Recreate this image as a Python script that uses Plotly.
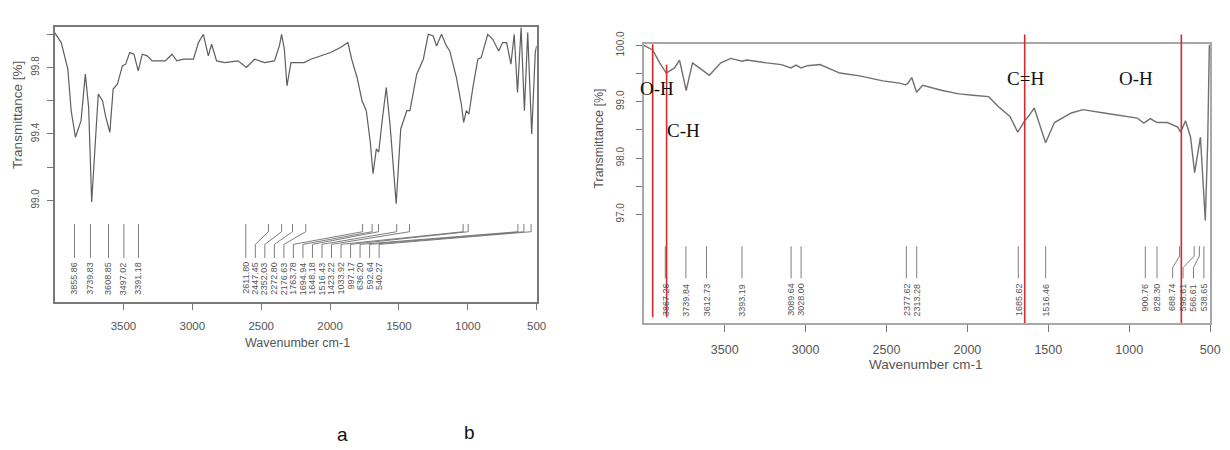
import plotly.graph_objects as go

W, H = 1230, 450
OFF = 8  # the page body adds an 8px margin; place everything 8px up/left to compensate

# ---------------- data: spectrum a ----------------
a_wn = [4000, 3952, 3904, 3880, 3849, 3808, 3777, 3753, 3731, 3712, 3683, 3652, 3628, 3599,
        3575, 3544, 3508, 3484, 3455, 3424, 3393, 3364, 3328, 3292, 3244, 3196, 3148, 3112,
        3064, 2992, 2956, 2920, 2884, 2860, 2824, 2764, 2668, 2608, 2548, 2476, 2404, 2368,
        2352, 2332, 2313, 2284, 2248, 2188, 2140, 2068, 1996, 1924, 1871, 1840, 1804, 1768,
        1737, 1708, 1688, 1664, 1647, 1623, 1592, 1564, 1520, 1487, 1443, 1420, 1371, 1323,
        1287, 1251, 1227, 1191, 1155, 1131, 1083, 1047, 1030, 1011, 992, 963, 927, 903, 855,
        819, 776, 747, 718, 687, 663, 639, 613, 589, 565, 536, 510, 500]
a_tr = [100.01, 99.95, 99.79, 99.54, 99.38, 99.48, 99.76, 99.56, 98.99, 99.25, 99.64, 99.60,
        99.50, 99.41, 99.67, 99.70, 99.81, 99.82, 99.89, 99.88, 99.78, 99.88, 99.87, 99.84,
        99.84, 99.84, 99.88, 99.84, 99.85, 99.85, 99.95, 100.0, 99.87, 99.94, 99.84, 99.83,
        99.84, 99.80, 99.85, 99.83, 99.84, 99.93, 100.0, 99.91, 99.69, 99.83, 99.83, 99.83,
        99.85, 99.87, 99.89, 99.92, 99.95, 99.84, 99.74, 99.60, 99.54, 99.35, 99.16, 99.31,
        99.29, 99.47, 99.68, 99.45, 98.98, 99.43, 99.54, 99.54, 99.76, 99.85, 100.0, 99.99,
        99.93, 100.0, 99.93, 99.90, 99.74, 99.58, 99.47, 99.54, 99.52, 99.68, 99.85, 99.86,
        100.0, 99.97, 99.90, 99.95, 99.95, 99.82, 100.0, 99.65, 100.04, 99.54, 100.01, 99.40,
        99.89, 99.93]
a_peaks = [3855.86, 3739.83, 3608.85, 3497.02, 3391.18, 2611.80, 2447.45, 2352.03, 2272.80,
           2176.63, 1763.78, 1694.94, 1648.18, 1516.43, 1423.22, 1033.92, 997.17, 636.20,
           592.64, 540.27]

# ---------------- data: spectrum b ----------------
b_wn = [4000, 3945, 3902, 3861, 3810, 3779, 3738, 3699, 3646, 3595, 3524, 3462, 3393, 3362,
        3240, 3150, 3090, 3060, 3028, 2990, 2911, 2789, 2666, 2523, 2420, 2382, 2370, 2344,
        2314, 2277, 2155, 2053, 1950, 1869, 1808, 1737, 1689, 1646, 1620, 1587, 1517, 1462,
        1358, 1286, 1156, 1010, 950, 910, 870, 828, 765, 700, 683, 652, 621, 596, 560, 530,
        515, 505, 500]
b_tr = [100.0, 99.92, 99.69, 99.51, 99.60, 99.74, 99.20, 99.69, 99.58, 99.47, 99.69, 99.77,
        99.72, 99.74, 99.69, 99.66, 99.60, 99.65, 99.60, 99.64, 99.66, 99.51, 99.46, 99.37,
        99.33, 99.30, 99.32, 99.43, 99.17, 99.29, 99.20, 99.14, 99.11, 99.09, 98.91, 98.74,
        98.46, 98.66, 98.75, 98.89, 98.27, 98.63, 98.80, 98.86, 98.80, 98.74, 98.71, 98.62,
        98.70, 98.63, 98.63, 98.55, 98.46, 98.66, 98.37, 97.74, 98.37, 96.89, 98.3, 100.0,
        100.0]
b_peaks = [3867.26, 3739.84, 3612.73, 3393.19, 3089.64, 3028.00, 2377.62, 2313.28, 1685.62,
           1516.46, 900.76, 828.30, 688.74, 598.61, 566.61, 538.65]

band_wn = [3945, 3859, 1646, 678]
band_labels = ["O-H", "C-H", "C=H", "O-H"]

x_ticks = [3500, 3000, 2500, 2000, 1500, 1000, 500]
a_yticks = [99.0, 99.2, 99.4, 99.6, 99.8, 100.0]
a_ytext = ["99.0", "", "99.4", "", "99.8", ""]
b_yticks = [97.0, 97.5, 98.0, 98.5, 99.0, 99.5, 100.0]
b_ytext = ["97.0", "", "98.0", "", "99.0", "", "100.0"]

panel_labels = ["a", "b"]

# ---------------- layout geometry (target screen pixels) ----------------
A = dict(l=55, r=541, t=14, b=297)
B = dict(l=649, r=1220, t=32, b=319)


def px(x):
    return (x - OFF) / W


def py(y):
    return 1 - (y - OFF) / H


def xdom(p):
    return [px(p["l"]), px(p["r"])]


def ydom(p):
    return [py(p["b"]), py(p["t"])]


def yfrac(p, ypx):
    return (p["b"] - ypx) / (p["b"] - p["t"])


TXT = "#555555"
FONT = "Liberation Sans, Arial, sans-serif"

fig = go.Figure()
fig.add_trace(go.Scatter(x=a_wn, y=a_tr, mode="lines", line=dict(color="#5e5e5e", width=1.2),
                         xaxis="x", yaxis="y", showlegend=False, hoverinfo="skip"))
fig.add_trace(go.Scatter(x=b_wn, y=b_tr, mode="lines", line=dict(color="#707070", width=1.4),
                         xaxis="x2", yaxis="y2", showlegend=False, hoverinfo="skip"))

shapes = []
annos = []


def peak_marks(p, xr, yr, peaks, labx, y_top, y_k1, y_k2, y_bot, y_lab):
    f = lambda v: yfrac(p, v)
    for pk, lx in zip(peaks, labx):
        common = dict(type="line", xref=xr, yref=yr + " domain",
                      line=dict(color="#6f6f6f", width=0.9))
        if abs(pk - lx) < 8:
            shapes.append(dict(common, x0=pk, x1=pk, y0=f(y_top), y1=f(y_bot)))
        else:
            shapes.append(dict(common, x0=pk, x1=pk, y0=f(y_top), y1=f(y_k1)))
            shapes.append(dict(common, x0=pk, x1=lx, y0=f(y_k1), y1=f(y_k2)))
            shapes.append(dict(common, x0=lx, x1=lx, y0=f(y_k2), y1=f(y_bot)))
        annos.append(dict(x=lx, xref=xr, y=f(y_lab), yref=yr + " domain", text=f"{pk:.2f}",
                          textangle=-90, showarrow=False, xanchor="center", yanchor="top",
                          font=dict(family=FONT, size=9, color="#555555")))


# panel a labels: cluster packed evenly starting from 2611.80
gap_a = 9.6 * 3500 / (A["r"] - A["l"])
labx_a = []
for i, pk in enumerate(a_peaks):
    if i <= 5:
        labx_a.append(pk)
    else:
        labx_a.append(a_peaks[5] - (i - 5) * gap_a)
peak_marks(A, "x", "y", a_peaks, labx_a, 217, 225, 238, 252, 254)

# panel b labels: right-to-left de-overlap
gap_b = 10.5 * 3500 / (B["r"] - B["l"])
labx_b = [0] * len(b_peaks)
prev = None
for i in range(len(b_peaks) - 1, -1, -1):
    v = b_peaks[i]
    if prev is not None and v < prev + gap_b and prev + gap_b - v > 8:
        v = prev + gap_b
    labx_b[i] = v
    prev = v
peak_marks(B, "x2", "y2", b_peaks, labx_b, 240, 250, 262, 273, 276)

# red band lines
red_spans = [(32, 313), (53, 313), (22, 319), (22, 319)]
for wn, (y0, y1) in zip(band_wn, red_spans):
    shapes.append(dict(type="line", xref="x2", yref="y2 domain", x0=wn, x1=wn,
                       y0=yfrac(B, y1), y1=yfrac(B, y0),
                       line=dict(color="#d42a2a", width=1.6)))

band_pos = [(662, 78), (689, 121), (1034, 67), (1145, 67)]
for lab, (xp, yp) in zip(band_labels, band_pos):
    annos.append(dict(x=px(xp), y=py(yp), xref="paper", yref="paper", text=lab,
                      showarrow=False, xanchor="center", yanchor="middle",
                      font=dict(family="Liberation Serif, Times New Roman, serif", size=19,
                                color="#111111")))

# axis titles
for (xp, yp, sz) in [(17, 105, 13.5), (603, 129, 12.5)]:
    annos.append(dict(x=px(xp), y=py(yp), xref="paper", yref="paper",
                      text="Transmittance [%]", textangle=-90, showarrow=False,
                      xanchor="center", yanchor="middle",
                      font=dict(family=FONT, size=sz, color=TXT)))
for (xp, yp, sz) in [(300, 340, 12.5), (934, 362, 13.5)]:
    annos.append(dict(x=px(xp), y=py(yp), xref="paper", yref="paper",
                      text="Wavenumber cm-1", showarrow=False,
                      xanchor="center", yanchor="middle",
                      font=dict(family=FONT, size=sz, color=TXT)))

# panel letters
for lab, (xp, yp) in zip(panel_labels, [(345, 434), (473, 432)]):
    annos.append(dict(x=px(xp), y=py(yp), xref="paper", yref="paper", text=lab,
                      showarrow=False, xanchor="center", yanchor="middle",
                      font=dict(family="Liberation Sans, Arial", size=19, color="#111111")))

xcommon = dict(autorange=False, tickvals=x_ticks, ticks="outside", ticklen=7,
               tickcolor="#777777", showgrid=False, zeroline=False, showline=True,
               mirror=True)
ycommon = dict(autorange=False, ticks="outside", ticklen=6, tickcolor="#777777",
               showgrid=False, zeroline=False, showline=True, mirror=True, tickangle=-90,
               tickfont=dict(family=FONT, size=10, color=TXT))

fig.update_layout(
    width=W, height=H, margin=dict(l=0, r=0, t=0, b=0),
    paper_bgcolor="white", plot_bgcolor="white", showlegend=False,
    xaxis=dict(xcommon, domain=xdom(A), range=[4000, 500], anchor="y",
               linecolor="#7a7a7a", linewidth=1.5, ticklabelstandoff=6,
               tickfont=dict(family=FONT, size=11.5, color=TXT)),
    yaxis=dict(ycommon, domain=ydom(A), range=[98.39, 100.045], anchor="x",
               tickvals=a_yticks, ticktext=a_ytext, linecolor="#7a7a7a", linewidth=1.5,
               ticklabelstandoff=4),
    xaxis2=dict(xcommon, domain=xdom(B), range=[4000, 500], anchor="y2",
                linecolor="#a8a8a8", linewidth=2, ticklabelstandoff=7,
                tickfont=dict(family=FONT, size=12.5, color=TXT)),
    yaxis2=dict(ycommon, domain=ydom(B), range=[95.07, 100.02], anchor="x2",
                tickvals=b_yticks, ticktext=b_ytext, linecolor="#a8a8a8", linewidth=2,
                ticklabelstandoff=8),
    shapes=shapes, annotations=annos,
)

fig.write_html("out.html")
